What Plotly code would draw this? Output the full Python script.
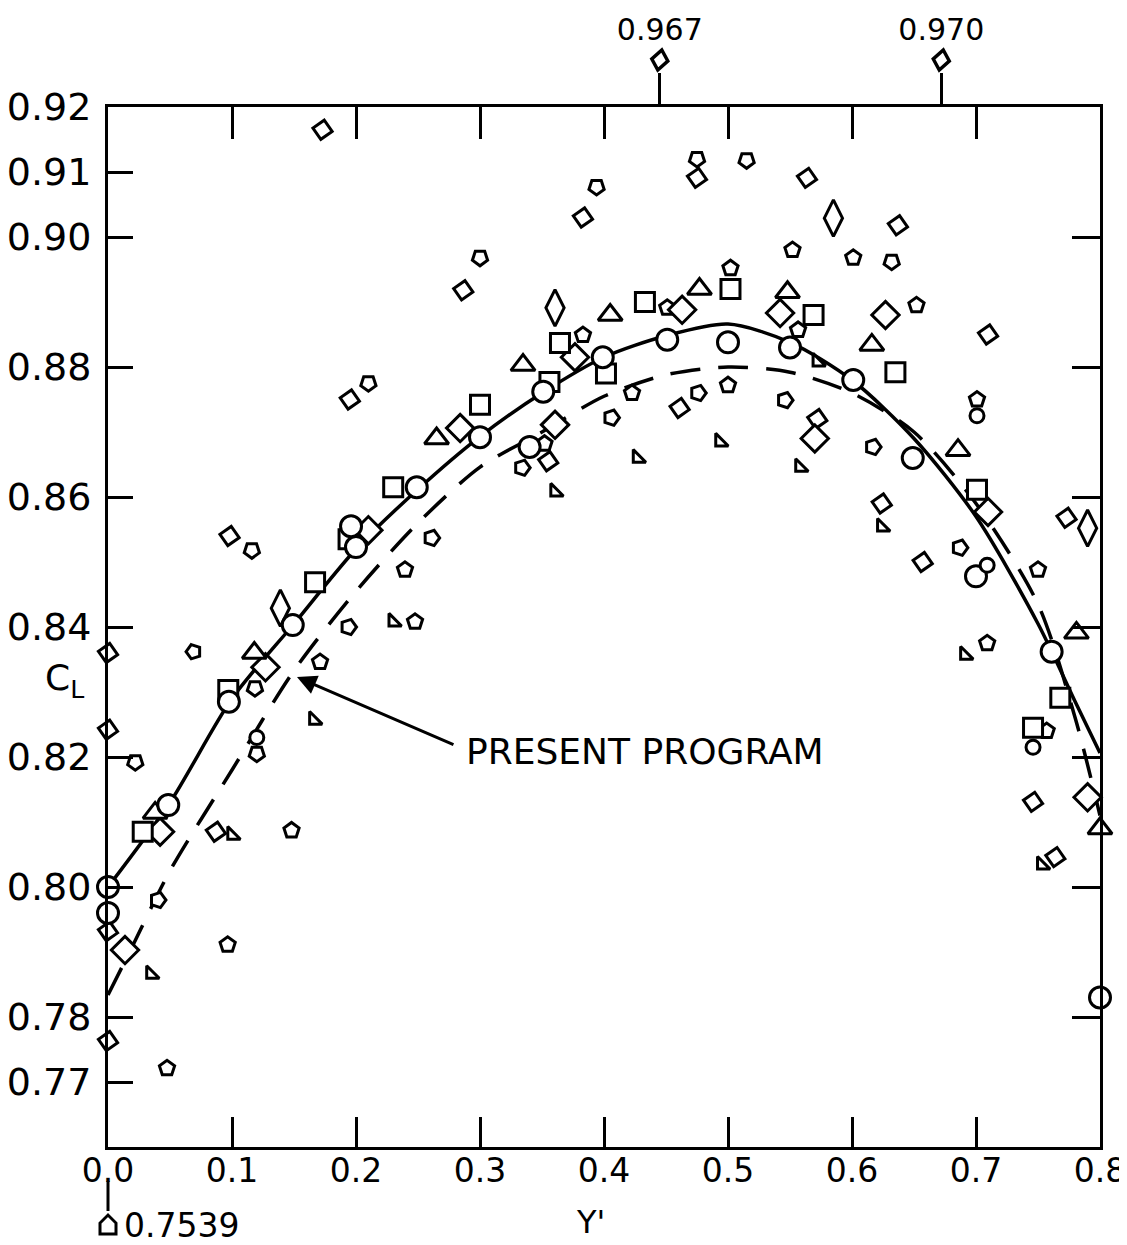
import plotly.graph_objects as go

# ---------------- axis ranges / ticks ----------------
X_MIN, X_MAX = 0.0, 0.8
Y_MIN, Y_MAX = 0.76, 0.92
x_ticks = [0.0, 0.1, 0.2, 0.3, 0.4, 0.5, 0.6, 0.7, 0.8]
x_tick_text = ["0.0", "0.1", "0.2", "0.3", "0.4", "0.5", "0.6", "0.7", "0.8"]
y_ticks_left = [0.77, 0.78, 0.80, 0.82, 0.84, 0.86, 0.88, 0.90, 0.91, 0.92]
y_tick_text_left = ["0.77", "0.78", "0.80", "0.82", "0.84", "0.86", "0.88", "0.90", "0.91", "0.92"]
y_ticks_right = [0.78, 0.80, 0.82, 0.84, 0.86, 0.88, 0.90]
x_ticks_top = [0.1, 0.2, 0.3, 0.4, 0.5, 0.6, 0.7]

# ---------------- curves ----------------
solid_x = [0.0, 0.05, 0.1, 0.15, 0.2, 0.25, 0.3, 0.35, 0.4, 0.45, 0.5, 0.55, 0.6, 0.65, 0.7, 0.75, 0.78, 0.8]
solid_y = [0.800, 0.8130, 0.8290, 0.8405, 0.8520, 0.8612, 0.8693, 0.8760, 0.8815, 0.8848, 0.8866,
           0.8838, 0.8780, 0.8690, 0.8570, 0.8405, 0.8285, 0.8206]

dashed_x = [0.0, 0.02, 0.05, 0.1, 0.15, 0.2, 0.25, 0.3, 0.35, 0.4, 0.45, 0.5, 0.55, 0.6, 0.65, 0.7, 0.75, 0.78, 0.8]
dashed_y = [0.7834, 0.7910, 0.8025, 0.8180, 0.8333, 0.8455, 0.8560, 0.8646, 0.8700, 0.8755, 0.8788, 0.8800,
            0.8792, 0.8760, 0.8700, 0.8590, 0.8435, 0.8260, 0.8110]

# ---------------- data points by symbol ----------------
circle_x = [0.0, 0.0, 0.0486, 0.0975, 0.149, 0.2, 0.196, 0.249, 0.30, 0.351, 0.340, 0.399, 0.451, 0.5,
            0.55, 0.601, 0.649, 0.700, 0.761, 0.80]
circle_y = [0.800, 0.796, 0.8126, 0.8285, 0.8403, 0.8523, 0.8555, 0.8615, 0.8692, 0.8762, 0.8677, 0.8815,
            0.8842, 0.8838, 0.8830, 0.8780, 0.8660, 0.8478, 0.8362, 0.7830]

small_circle_x = [0.12, 0.7008, 0.746, 0.709]
small_circle_y = [0.8230, 0.8725, 0.8215, 0.8495]

square_x = [0.028, 0.097, 0.167, 0.194, 0.23, 0.30, 0.356, 0.3645, 0.4016, 0.433, 0.502, 0.569, 0.635,
            0.7008, 0.768, 0.746]
square_y = [0.8085, 0.8303, 0.8469, 0.8535, 0.8615, 0.8742, 0.8777, 0.8837, 0.8790, 0.8900, 0.8920,
            0.8880, 0.8792, 0.8611, 0.8291, 0.8245]

triangle_x = [0.038, 0.118, 0.265, 0.3347, 0.405, 0.477, 0.548, 0.616, 0.6855, 0.781, 0.80]
triangle_y = [0.8114, 0.8360, 0.8690, 0.8803, 0.8880, 0.8920, 0.8915, 0.8834, 0.8672, 0.8391, 0.8090]

diamond_x = [0.0137, 0.042, 0.127, 0.21, 0.284, 0.3605, 0.3766, 0.463, 0.542, 0.570, 0.627, 0.7097, 0.790]
diamond_y = [0.7903, 0.8085, 0.8338, 0.8549, 0.8706, 0.8711, 0.8815, 0.8888, 0.8883, 0.8690, 0.8880,
             0.8577, 0.8138]

tall_diamond_x = [0.139, 0.3605, 0.585, 0.790]
tall_diamond_y = [0.8429, 0.8891, 0.9029, 0.8552]

small_diamond_x = [0.0, 0.0, 0.0, 0.0, 0.087, 0.098, 0.173, 0.195, 0.2865, 0.355, 0.383, 0.461, 0.475,
                   0.5637, 0.572, 0.624, 0.637, 0.657, 0.7097, 0.746, 0.764, 0.773]
small_diamond_y = [0.8360, 0.8242, 0.7932, 0.7763, 0.8085, 0.8540, 0.9165, 0.8750, 0.8918, 0.8655,
                   0.9030, 0.8737, 0.9091, 0.9091, 0.8720, 0.8590, 0.9018, 0.8500, 0.8850, 0.8131,
                   0.8046, 0.8568]

cup_x = [0.022, 0.116, 0.1185, 0.12, 0.21, 0.30, 0.394, 0.475, 0.515, 0.632]
cup_y = [0.8192, 0.8518, 0.8306, 0.8205, 0.8775, 0.8968, 0.9077, 0.9120, 0.9118, 0.8962]

house_x = [0.0476, 0.0965, 0.148, 0.171, 0.2395, 0.2476, 0.352, 0.383, 0.4226, 0.451, 0.5, 0.502, 0.552,
           0.5565, 0.601, 0.652, 0.7008, 0.709, 0.75, 0.757]
house_y = [0.7721, 0.7911, 0.8087, 0.8346, 0.8488, 0.8408, 0.8682, 0.8849, 0.8760, 0.8891, 0.8772,
           0.8952, 0.8980, 0.8857, 0.8968, 0.8895, 0.8750, 0.8375, 0.8488, 0.8240]

dshape_x = [0.0403, 0.194, 0.261, 0.334, 0.406, 0.476, 0.546, 0.617, 0.687]
dshape_y = [0.7980, 0.8400, 0.8537, 0.8645, 0.8722, 0.8760, 0.8749, 0.8677, 0.8522]

rtri_x = [0.0346, 0.10, 0.166, 0.23, 0.3605, 0.427, 0.4935, 0.558, 0.572, 0.624, 0.691, 0.753]
rtri_y = [0.7866, 0.8080, 0.8257, 0.8408, 0.8608, 0.8660, 0.8685, 0.8646, 0.8808, 0.8554, 0.8357, 0.8034]

g_x = [0.069]
g_y = [0.8362]

# off-scale points (shown outside the frame with their values)
top_off_x = [0.445, 0.672]
top_off_val = [0.967, 0.970]
bottom_off_x = [0.0]
bottom_off_val = [0.7539]

# ---------------- figure ----------------
fig = go.Figure()
BLACK = "black"

fig.add_trace(go.Scatter(x=solid_x, y=solid_y, mode="lines",
                         line=dict(color=BLACK, width=3.5, shape="spline", smoothing=0.8),
                         hoverinfo="skip"))
fig.add_trace(go.Scatter(x=dashed_x, y=dashed_y, mode="lines",
                         line=dict(color=BLACK, width=3.5, dash="30px,18px", shape="spline", smoothing=0.8),
                         hoverinfo="skip"))


def add_markers(xs, ys, symbol, size, angle=0):
    fig.add_trace(go.Scatter(
        x=xs, y=ys, mode="markers", cliponaxis=False,
        marker=dict(symbol=symbol, size=size, angle=angle, color="white",
                    line=dict(color=BLACK, width=3)),
        hoverinfo="skip"))


add_markers(house_x, house_y, "pentagon", 16)
add_markers(cup_x, cup_y, "pentagon", 16, angle=180)
add_markers(dshape_x, dshape_y, "pentagon", 16, angle=90)
add_markers(rtri_x, rtri_y, "triangle-sw", 14)
add_markers(g_x, g_y, "pentagon", 15, angle=270)
add_markers(small_diamond_x, small_diamond_y, "diamond", 15, angle=10)
add_markers(diamond_x, diamond_y, "diamond", 21)
add_markers(tall_diamond_x, tall_diamond_y, "diamond-tall", 26)
add_markers(square_x, square_y, "square", 19)
add_markers(triangle_x, triangle_y, "triangle-up", 21)
add_markers(circle_x, circle_y, "circle", 21)
add_markers(small_circle_x, small_circle_y, "circle", 14)

# dummy traces to create the extra tick axes
fig.add_trace(go.Scatter(x=[None], y=[None], xaxis="x2", yaxis="y", hoverinfo="skip"))
fig.add_trace(go.Scatter(x=[None], y=[None], xaxis="x3", yaxis="y", hoverinfo="skip"))
fig.add_trace(go.Scatter(x=[None], y=[None], xaxis="x", yaxis="y2", hoverinfo="skip"))

axis_common = dict(showgrid=False, zeroline=False, tickcolor=BLACK, tickwidth=3, automargin=False)

# the page adds an 8px body margin, so the figure is sized to fit the 1127x1245 window
fig.update_layout(
    width=1119, height=1237,
    margin=dict(l=100, r=27, t=99, b=98),
    paper_bgcolor="white", plot_bgcolor="white",
    showlegend=False,
    font=dict(family="DejaVu Sans", color=BLACK),
    xaxis=dict(range=[X_MIN, X_MAX], tickvals=x_ticks, ticktext=x_tick_text, ticks="inside", ticklen=30,
               showline=True, linewidth=3, linecolor=BLACK, mirror=True,
               tickfont=dict(size=33, color=BLACK), ticklabelstandoff=-8, **axis_common),
    xaxis2=dict(range=[X_MIN, X_MAX], overlaying="x", side="top", anchor="y",
                tickvals=top_off_x, ticktext=[f"{v:.3f}" for v in top_off_val],
                ticks="outside", ticklen=33, showline=False,
                tickfont=dict(size=30, color=BLACK), ticklabelstandoff=21, **axis_common),
    xaxis3=dict(range=[X_MIN, X_MAX], overlaying="x", side="top", anchor="y",
                tickvals=x_ticks_top, ticks="inside", ticklen=32, showticklabels=False,
                showline=False, **axis_common),
    yaxis=dict(range=[Y_MIN, Y_MAX], tickvals=y_ticks_left, ticktext=y_tick_text_left, ticks="inside",
               ticklen=25, showline=True, linewidth=3, linecolor=BLACK, mirror=True,
               tickfont=dict(size=38, color=BLACK), ticklabelstandoff=6, **axis_common),
    yaxis2=dict(range=[Y_MIN, Y_MAX], overlaying="y", side="right", anchor="x",
                tickvals=y_ticks_right, ticks="inside", ticklen=28, showticklabels=False,
                showline=False, **axis_common),
)


def to_paper_x(v):
    return (v - X_MIN) / (X_MAX - X_MIN)


# off-scale high values: small diamond drawn above the frame
for tx in top_off_x:
    fig.add_shape(type="path", xref="paper", yref="paper", xsizemode="pixel", ysizemode="pixel",
                  xanchor=to_paper_x(tx), yanchor=1,
                  path="M -2,37 L 8,46 L 2,57 L -8,48 Z",
                  line=dict(color=BLACK, width=3.5), fillcolor="white")

# off-scale low value: stub below the axis, house marker and value
for bx, bv in zip(bottom_off_x, bottom_off_val):
    fig.add_shape(type="line", xref="paper", yref="paper", xsizemode="pixel", ysizemode="pixel",
                  xanchor=to_paper_x(bx), yanchor=0, x0=0, x1=0, y0=-34, y1=-64,
                  line=dict(color=BLACK, width=3))
    fig.add_shape(type="path", xref="paper", yref="paper", xsizemode="pixel", ysizemode="pixel",
                  xanchor=to_paper_x(bx), yanchor=0,
                  path="M -8,-87 L 8,-87 L 8,-76 L 0,-68 L -8,-76 Z",
                  line=dict(color=BLACK, width=3), fillcolor="white")
    fig.add_annotation(x=bx, y=-0.075, xref="x", yref="paper", text=f"{bv}",
                       showarrow=False, xanchor="left", yanchor="middle", xshift=14,
                       font=dict(size=33, color=BLACK))

# axis titles
fig.add_annotation(x=-0.066, y=0.449, xref="paper", yref="paper", text="C<sub>L</sub>",
                   showarrow=False, yanchor="middle", font=dict(size=36, color=BLACK))
fig.add_annotation(x=0.486, y=-0.072, xref="paper", yref="paper", text="Y'",
                   showarrow=False, yanchor="middle", font=dict(size=32, color=BLACK))

# label + arrow
fig.add_annotation(x=0.433, y=0.8208, xref="x", yref="y", text="PRESENT PROGRAM",
                   showarrow=False, yanchor="middle", font=dict(size=36, color=BLACK))
fig.add_annotation(x=0.1524, y=0.8323, ax=0.2798, ay=0.8218, xref="x", yref="y",
                   axref="x", ayref="y", text="", showarrow=True,
                   arrowhead=2, arrowsize=1.3, arrowwidth=3, arrowcolor=BLACK)

fig.write_html("out.html")
